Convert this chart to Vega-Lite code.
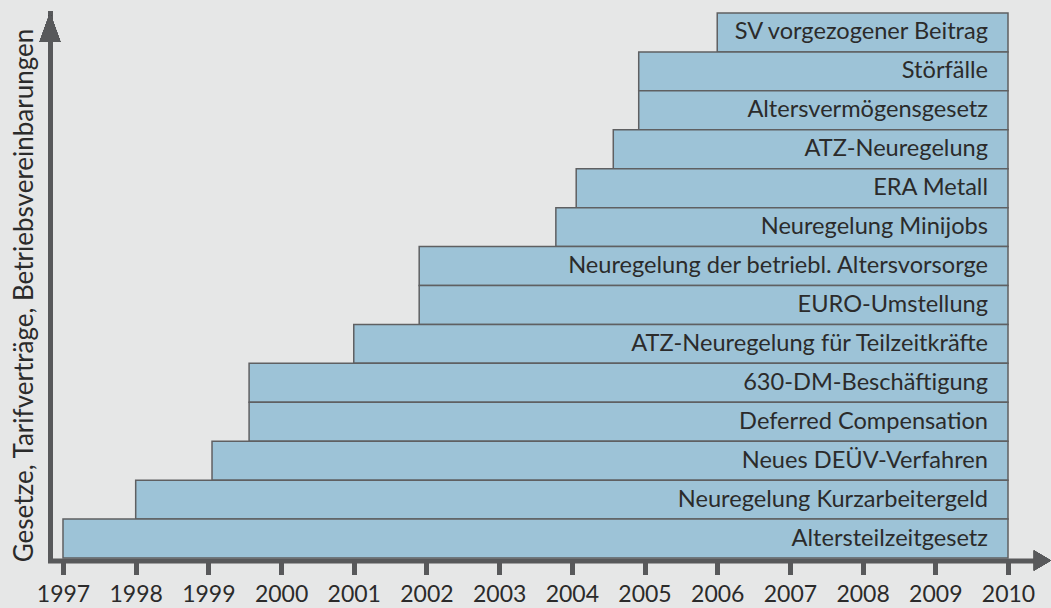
{
  "$schema": "https://vega.github.io/schema/vega-lite/v6.json",
  "width": 990,
  "height": 545,
  "autosize": {"type": "none"},
  "padding": {"left": 50, "top": 13, "right": 11, "bottom": 50},
  "background": "#e6e7e7",
  "config": {"view": {"stroke": null}, "font": "Lato"},
  "data": {
    "values": [
      {"label": "SV vorgezogener Beitrag", "start": 2006.0, "end": 2010},
      {"label": "Störfälle", "start": 2004.92, "end": 2010},
      {"label": "Altersvermögensgesetz", "start": 2004.92, "end": 2010},
      {"label": "ATZ-Neuregelung", "start": 2004.57, "end": 2010},
      {"label": "ERA Metall", "start": 2004.06, "end": 2010},
      {"label": "Neuregelung  Minijobs", "start": 2003.78, "end": 2010},
      {"label": "Neuregelung der betriebl. Altersvorsorge", "start": 2001.9, "end": 2010},
      {"label": "EURO-Umstellung", "start": 2001.9, "end": 2010},
      {"label": "ATZ-Neuregelung für Teilzeitkräfte", "start": 2001.0, "end": 2010},
      {"label": "630-DM-Beschäftigung", "start": 1999.56, "end": 2010},
      {"label": "Deferred Compensation", "start": 1999.56, "end": 2010},
      {"label": "Neues DEÜV-Verfahren", "start": 1999.05, "end": 2010},
      {"label": "Neuregelung Kurzarbeitergeld", "start": 1998.0, "end": 2010},
      {"label": "Altersteilzeitgesetz", "start": 1997.0, "end": 2010}
    ]
  },
  "layer": [
    {
      "mark": {"type": "bar", "fill": "#9dc3d7", "stroke": "#5f6062", "strokeWidth": 1.5, "opacity": 1},
      "encoding": {
        "x": {
          "field": "start", "type": "quantitative",
          "scale": {"domain": [1996.8212, 2010.4402], "nice": false, "zero": false},
          "axis": {
            "title": null, "values": [1997,1998,1999,2000,2001,2002,2003,2004,2005,2006,2007,2008,2009,2010],
            "format": "d", "grid": false, "offset": 2.5,
            "domainColor": "#58595b", "domainWidth": 5, "domainCap": "square",
            "tickColor": "#58595b", "tickWidth": 5, "tickSize": 14,
            "labelFontSize": 23, "labelColor": "#2b2b2b", "labelPadding": 9, "labelFlush": false
          }
        },
        "x2": {"field": "end"},
        "y": {
          "field": "label", "type": "nominal", "sort": null,
          "scale": {"paddingInner": 0, "paddingOuter": 0},
          "axis": {
            "title": "Gesetze, Tarifverträge, Betriebsvereinbarungen",
            "labels": false, "ticks": false, "grid": false,
            "domainColor": "#58595b", "domainWidth": 5, "domainCap": "square",
            "titleFontSize": 26, "titleFontWeight": "normal", "titleColor": "#2b2b2b", "titlePadding": 13,
            "titleY": 282
          }
        }
      }
    },
    {
      "mark": {"type": "text", "align": "right", "baseline": "middle", "dx": -20, "fontSize": 23.6, "color": "#2b2b2b"},
      "encoding": {
        "x": {"field": "end", "type": "quantitative"},
        "y": {"field": "label", "type": "nominal", "sort": null},
        "text": {"field": "label"}
      }
    },
    {
      "mark": {"type": "point", "shape": "M0,0 L1.05,2.9 L-1.05,2.9 Z", "size": 400, "filled": true, "color": "#58595b", "opacity": 1, "strokeWidth": 0},
      "encoding": {
        "x": {"datum": 1996.8212, "type": "quantitative"},
        "y": {"datum": "SV vorgezogener Beitrag", "type": "nominal", "bandPosition": 0}
      }
    },
    {
      "mark": {"type": "point", "shape": "M0,0 L-1.7,-1 L-1.7,1 Z", "size": 400, "filled": true, "color": "#58595b", "opacity": 1, "strokeWidth": 0, "yOffset": 2.5},
      "encoding": {
        "x": {"datum": 2010.59, "type": "quantitative"},
        "y": {"datum": "Altersteilzeitgesetz", "type": "nominal", "bandPosition": 1}
      }
    }
  ]
}
